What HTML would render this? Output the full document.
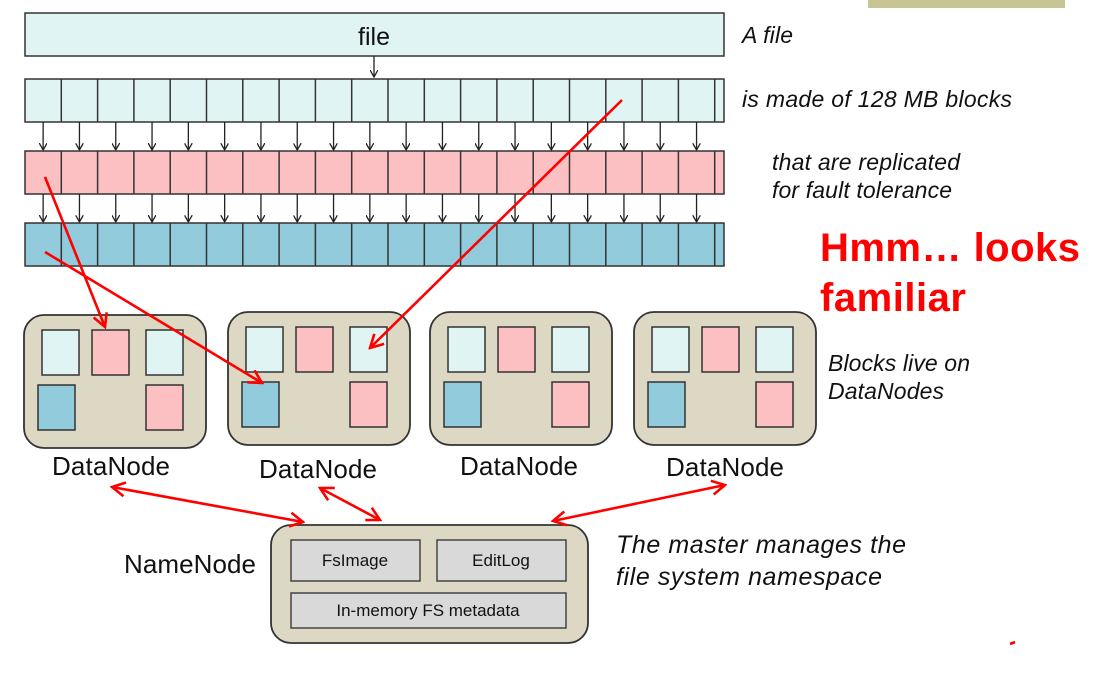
<!DOCTYPE html>
<html><head><meta charset="utf-8"><style>
html,body{margin:0;padding:0;background:#fff;}
svg{display:block;}
text{font-family:"Liberation Sans",sans-serif;}
.it{font-style:italic;fill:#111;font-size:23px;}
</style></head><body>
<svg id="s" width="1094" height="676" viewBox="0 0 1094 676" xmlns="http://www.w3.org/2000/svg">
<defs>
<marker id="ab" markerWidth="8" markerHeight="8" refX="7" refY="4" orient="auto" markerUnits="userSpaceOnUse"><path d="M0,0 L7,4 L0,8" fill="none" stroke="#222" stroke-width="1.3"/></marker>
<marker id="ar" markerWidth="16" markerHeight="16" refX="14" refY="8" orient="auto-start-reverse" markerUnits="userSpaceOnUse"><path d="M1,1 L14,8 L1,15" fill="none" stroke="#f00" stroke-width="2.6"/></marker>
</defs>
<rect x="868" y="0" width="197" height="8" fill="#c8c594"/>
<rect x="25" y="13" width="699" height="43" fill="#e0f4f3" stroke="#333" stroke-width="1.5"/>
<text x="374" y="45" font-size="25" text-anchor="middle" fill="#111">file</text>
<line x1="374" y1="56" x2="374" y2="77" stroke="#222" stroke-width="1.3" marker-end="url(#ab)"/>
<g id="rows"></g>
<text class="it" x="742" y="43" textLength="51">A file</text>
<text class="it" x="742" y="107" textLength="270">is made of 128 MB blocks</text>
<text class="it" x="772" y="170" textLength="188">that are replicated</text>
<text class="it" x="772" y="198" textLength="180">for fault tolerance</text>
<text x="820" y="261" font-size="40" font-weight="bold" fill="#f00" textLength="260">Hmm… looks</text>
<text x="820" y="311" font-size="40" font-weight="bold" fill="#f00" textLength="146">familiar</text>
<text class="it" x="828" y="371" textLength="142">Blocks live on</text>
<text class="it" x="828" y="399" textLength="116">DataNodes</text>
<g id="dn"></g>
<text x="52" y="475" font-size="26" fill="#111" textLength="118">DataNode</text>
<text x="259" y="478" font-size="26" fill="#111" textLength="118">DataNode</text>
<text x="460" y="475" font-size="26" fill="#111" textLength="118">DataNode</text>
<text x="666" y="476" font-size="26" fill="#111" textLength="118">DataNode</text>
<rect x="271" y="525" width="317" height="118" rx="20" fill="#ddd8c4" stroke="#333" stroke-width="1.8"/>
<rect x="291" y="540" width="129" height="41" fill="#d9d9d9" stroke="#444" stroke-width="1.5"/>
<rect x="437" y="540" width="129" height="41" fill="#d9d9d9" stroke="#444" stroke-width="1.5"/>
<rect x="291" y="593" width="275" height="35" fill="#d9d9d9" stroke="#444" stroke-width="1.5"/>
<text x="355" y="566" font-size="17" text-anchor="middle" fill="#111">FsImage</text>
<text x="501" y="566" font-size="17" text-anchor="middle" fill="#111">EditLog</text>
<text x="428" y="616" font-size="17" text-anchor="middle" fill="#111">In-memory FS metadata</text>
<text x="124" y="573" font-size="26" fill="#111" textLength="132">NameNode</text>
<text class="it" x="616" y="553" style="font-size:25px" textLength="290">The master manages the</text>
<text class="it" x="616" y="585" style="font-size:25px" textLength="266">file system namespace</text>
<g stroke="#f00" stroke-width="2.6" fill="none">
<line x1="45" y1="177" x2="105" y2="327" marker-end="url(#ar)"/>
<line x1="45" y1="252" x2="262" y2="383" marker-end="url(#ar)"/>
<line x1="622" y1="100" x2="370" y2="348" marker-end="url(#ar)"/>
<line x1="112" y1="487" x2="303" y2="522" marker-start="url(#ar)" marker-end="url(#ar)"/>
<line x1="320" y1="488" x2="380" y2="520" marker-start="url(#ar)" marker-end="url(#ar)"/>
<line x1="553" y1="521" x2="725" y2="485" marker-start="url(#ar)" marker-end="url(#ar)"/>
<line x1="1010" y1="644" x2="1015" y2="642"/>
</g>
</svg>
<script>
var NS="http://www.w3.org/2000/svg",g=document.getElementById("rows"),d=document.getElementById("dn");
function el(p,t,a){var e=document.createElementNS(NS,t);for(var k in a)e.setAttribute(k,a[k]);p.appendChild(e);return e;}
var ys=[79,151,223],cols=["#e0f4f3","#fcc0c2","#92cbdb"],w=36.3;
for(var r=0;r<3;r++){
 el(g,"rect",{x:25,y:ys[r],width:699,height:43,fill:cols[r],stroke:"#333","stroke-width":1.5});
 for(var i=1;i<=19;i++){var x=25+i*w;el(g,"line",{x1:x,y1:ys[r],x2:x,y2:ys[r]+43,stroke:"#333","stroke-width":1.5});}
 if(r<2)for(var i=0;i<19;i++){var cx=25+i*w+w/2;el(g,"line",{x1:cx,y1:ys[r]+43,x2:cx,y2:ys[r+1]-1,stroke:"#222","stroke-width":1.3,"marker-end":"url(#ab)"});}
}
var bx=[[24,315],[228,312],[430,312],[634,312]];
bx.forEach(function(b,n){
 var x=b[0],y=b[1];
 el(d,"rect",{x:x,y:y,width:182,height:133,rx:20,fill:"#ddd8c4",stroke:"#333","stroke-width":1.8});
 var bl=[[18,15,0],[68,15,1],[122,15,0],[14,70,2],[122,70,1]];
 bl.forEach(function(q){el(d,"rect",{x:x+q[0],y:y+q[1],width:37,height:45,fill:cols[q[2]],stroke:"#333","stroke-width":1.5});});
});
</script>
</body></html>
